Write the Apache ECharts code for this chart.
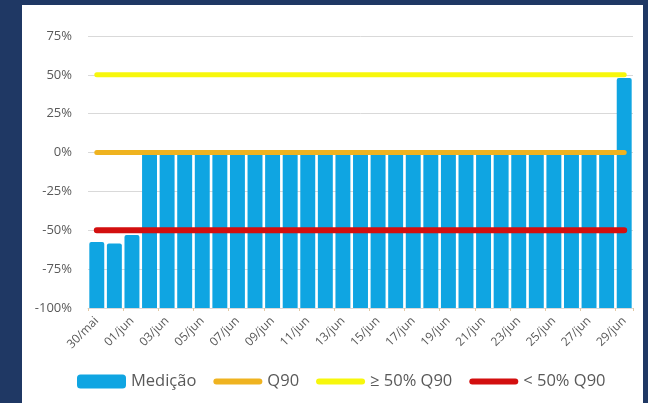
<!DOCTYPE html>
<html lang="pt">
<head>
    <meta charset="UTF-8">
    <title>Medição vs Q90</title>
    <script src="https://cdn.jsdelivr.net/npm/echarts@6/dist/echarts.min.js"></script>
    <style>
        html, body { margin: 0; padding: 0; background: #1f3864; }
        #main { width: 648px; height: 403px; }
    </style>
</head>
<body>
<div id="main"></div>
<script type="text/javascript">
    // datas (eixo x)
    var categorias = ['30/mai', '31/mai', '01/jun', '02/jun', '03/jun', '04/jun', '05/jun', '06/jun',
        '07/jun', '08/jun', '09/jun', '10/jun', '11/jun', '12/jun', '13/jun', '14/jun', '15/jun',
        '16/jun', '17/jun', '18/jun', '19/jun', '20/jun', '21/jun', '22/jun', '23/jun', '24/jun',
        '25/jun', '26/jun', '27/jun', '28/jun', '29/jun'];
    // medição em %
    var medicao = [-57.5, -58.5, -53, 0, 0, 0, 0, 0, 0, 0, 0, 0, 0, 0, 0, 0, 0,
        0, 0, 0, 0, 0, 0, 0, 0, 0, 0, 0, 0, 0, 48];
    // níveis de referência
    var nivelQ90 = 0;
    var nivelAcima = 50;
    var nivelAbaixo = -50;
    // eixo y
    var yMin = -100, yMax = 75, yPasso = 25;

    var linha = function (v) { return categorias.map(function () { return v; }); };
    // icone de linha grossa para a legenda
    var iconeLinha = 'path://M3,0 L46,0 A3,3 0 0 1 46,6 L3,6 A3,3 0 0 1 3,0 Z';

    var myChart = echarts.init(document.getElementById('main'));
    var fonte = "'Open Sans', 'Noto Sans', sans-serif";

    myChart.setOption({
        backgroundColor: '#1f3864',
        animation: false,
        textStyle: { fontFamily: fonte },
        graphic: [{
            type: 'rect', z: -10,
            shape: { x: 22, y: 5, width: 621, height: 400 },
            style: { fill: '#ffffff' }
        }],
        grid: { left: 88, right: 15, top: 36, bottom: 95 },
        legend: {
            bottom: 8,
            left: 72,
            itemWidth: 49,
            itemHeight: 14,
            itemGap: 17,
            textStyle: { color: '#595959', fontSize: 16.5, fontFamily: fonte },
            data: [
                { name: 'Medição', icon: 'roundRect' },
                { name: 'Q90', icon: iconeLinha },
                { name: '≥ 50% Q90', icon: iconeLinha },
                { name: '< 50% Q90', icon: iconeLinha }
            ]
        },
        xAxis: {
            type: 'category',
            data: categorias,
            boundaryGap: true,
            axisLine: { onZero: false, lineStyle: { color: '#d9d9d9' } },
            axisTick: { show: true, length: 3, lineStyle: { color: '#e2c8a4' } },
            axisLabel: { interval: 1, rotate: 45, color: '#595959', fontSize: 12, margin: 11 }
        },
        yAxis: {
            type: 'value',
            min: yMin, max: yMax, interval: yPasso,
            axisLine: { show: false },
            axisTick: { show: false },
            axisLabel: {
                color: '#595959', fontSize: 13, margin: 16,
                formatter: function (v) { return v + '%'; }
            },
            splitLine: { lineStyle: { color: '#d9d9d9' } }
        },
        series: [
            {
                name: 'Medição',
                type: 'custom',
                itemStyle: { color: '#0fa5e2' },
                encode: { x: 0, y: 1 },
                data: medicao.map(function (v, i) { return [i, v]; }),
                renderItem: function (params, api) {
                    var topo = api.coord([api.value(0), api.value(1)]);
                    var base = api.coord([api.value(0), yMin]);
                    var w = api.size([1, 0])[0] * 0.85;
                    return {
                        type: 'rect',
                        shape: { x: topo[0] - w / 2, y: topo[1], width: w, height: base[1] - topo[1], r: [2, 2, 0, 0] },
                        style: api.style()
                    };
                },
                z: 2
            },
            {
                name: 'Q90', type: 'line', data: linha(nivelQ90),
                symbol: 'none', z: 4,
                itemStyle: { color: '#efb320' },
                lineStyle: { color: '#efb320', width: 5, cap: 'round' }
            },
            {
                name: '≥ 50% Q90', type: 'line', data: linha(nivelAcima),
                symbol: 'none', z: 4,
                itemStyle: { color: '#f7f70c' },
                lineStyle: { color: '#f7f70c', width: 5, cap: 'round' }
            },
            {
                name: '< 50% Q90', type: 'line', data: linha(nivelAbaixo),
                symbol: 'none', z: 4,
                itemStyle: { color: '#d30f0f' },
                lineStyle: { color: '#d30f0f', width: 6, cap: 'round' }
            }
        ]
    });
</script>
</body>
</html>
